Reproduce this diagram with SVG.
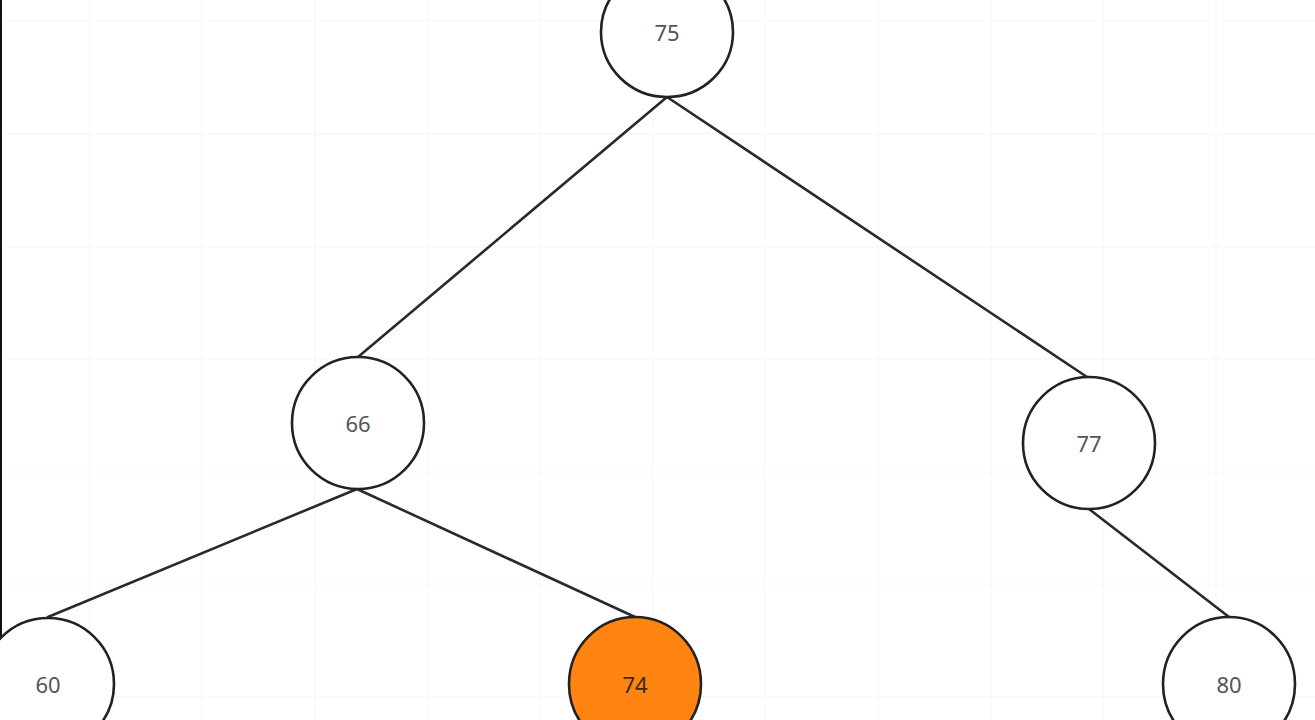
<svg xmlns="http://www.w3.org/2000/svg" width="1315" height="720" viewBox="0 0 1315 720">
<style>
.grid line{stroke:#f6f6f6;stroke-width:1}
.node ellipse{fill:#ffffff;stroke:#222222;stroke-width:2.6}
.node.hl ellipse{fill:#ff8412}
.node text{font-family:"Noto Sans","Open Sans",sans-serif;font-size:22px;fill:#555555;text-anchor:middle;dominant-baseline:central}
.node.hl text{fill:#3a2a1a}
.edges line{stroke:#2a2a2a;stroke-width:2.6;stroke-linecap:round}
</style>
<rect x="0" y="0" width="1315" height="720" fill="#ffffff"/>
<g class="grid">
<line x1="0" y1="21" x2="1315" y2="21"/>
<line x1="0" y1="134" x2="1315" y2="134"/>
<line x1="0" y1="247" x2="1315" y2="247"/>
<line x1="0" y1="359" x2="1315" y2="359"/>
<line x1="0" y1="472" x2="1315" y2="472"/>
<line x1="0" y1="584" x2="1315" y2="584"/>
<line x1="0" y1="697" x2="1315" y2="697"/>
<line x1="90" y1="0" x2="90" y2="720"/>
<line x1="202" y1="0" x2="202" y2="720"/>
<line x1="315" y1="0" x2="315" y2="720"/>
<line x1="428" y1="0" x2="428" y2="720"/>
<line x1="540" y1="0" x2="540" y2="720"/>
<line x1="653" y1="0" x2="653" y2="720"/>
<line x1="765" y1="0" x2="765" y2="720"/>
<line x1="878" y1="0" x2="878" y2="720"/>
<line x1="991" y1="0" x2="991" y2="720"/>
<line x1="1103" y1="0" x2="1103" y2="720"/>
<line x1="1216" y1="0" x2="1216" y2="720"/>
</g>
<rect x="0" y="0" width="2" height="720" fill="#111111"/>
<g class="edges" id="connectors">
<line x1="667" y1="97" x2="358" y2="357"/>
<line x1="667" y1="97" x2="1087" y2="377"/>
<line x1="357" y1="489" x2="48" y2="617"/>
<line x1="357" y1="489" x2="635" y2="617"/>
<line x1="1089" y1="509" x2="1229" y2="617"/>
</g>
<g class="node" id="n75"><ellipse cx="667" cy="32" rx="66" ry="65"/><text x="667" y="32">75</text></g>
<g class="node" id="n66"><ellipse cx="358" cy="423" rx="66" ry="66"/><text x="358" y="423">66</text></g>
<g class="node" id="n77"><ellipse cx="1089" cy="443" rx="66" ry="66"/><text x="1089" y="443">77</text></g>
<g class="node" id="n60"><ellipse cx="48" cy="684" rx="66" ry="66"/><text x="48" y="684">60</text></g>
<g class="node hl" id="n74"><ellipse cx="635" cy="684" rx="66" ry="67"/><text x="635" y="684">74</text></g>
<g class="node" id="n80"><ellipse cx="1229" cy="684" rx="66" ry="67"/><text x="1229" y="684">80</text></g>
</svg>
